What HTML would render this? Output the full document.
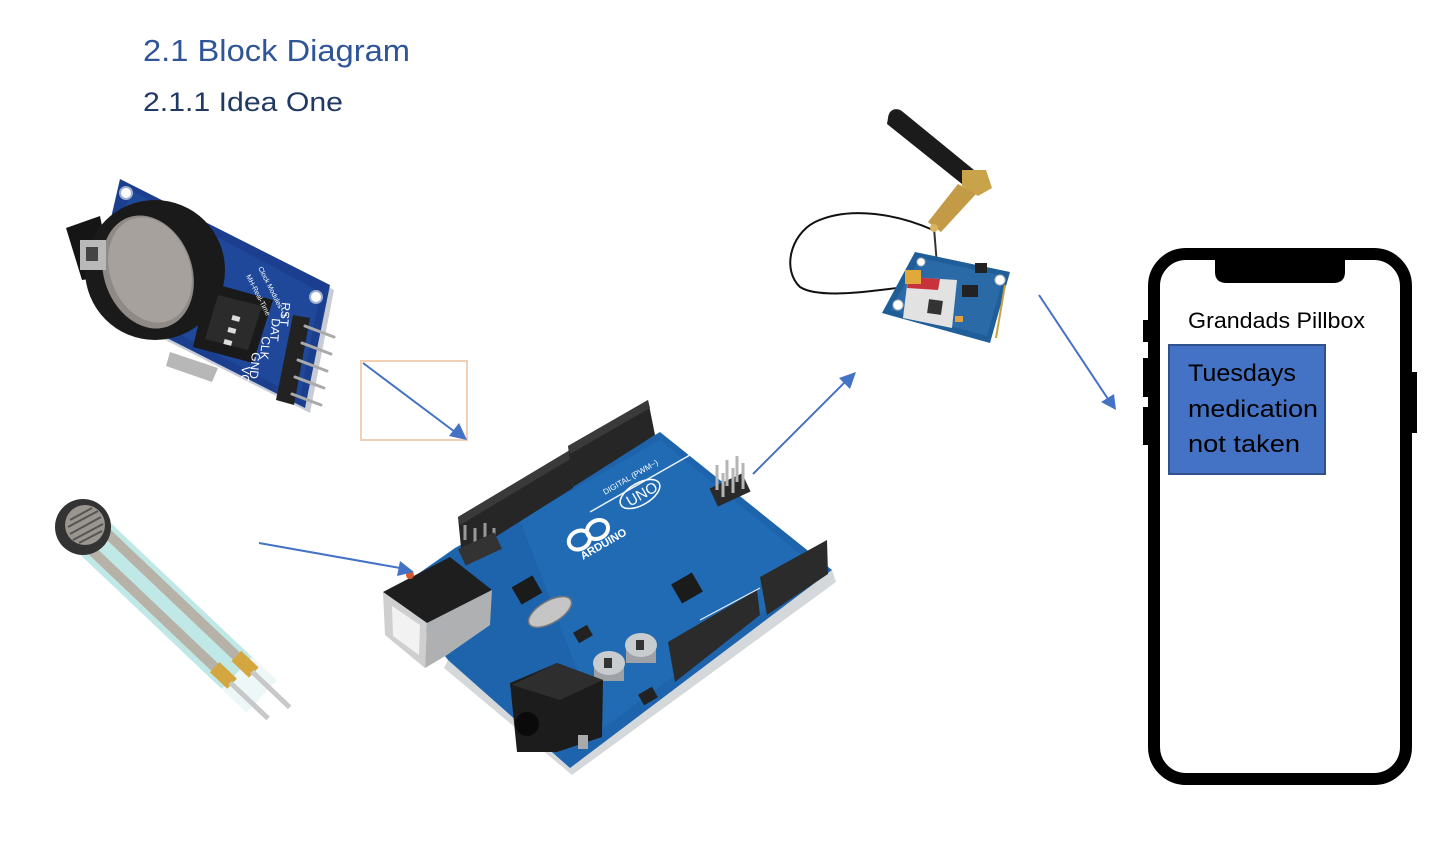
<!DOCTYPE html>
<html>
<head>
<meta charset="utf-8">
<style>
html,body{margin:0;padding:0;background:#fff;}
svg{display:block;}
</style>
</head>
<body>
<svg width="1442" height="842" viewBox="0 0 1442 842" xmlns="http://www.w3.org/2000/svg">
<rect width="1442" height="842" fill="#fff"/>

<!-- Headings -->
<text x="143" y="61" font-family="Liberation Sans, sans-serif" font-size="31" fill="#2F5597" textLength="267" lengthAdjust="spacingAndGlyphs">2.1 Block Diagram</text>
<text x="143" y="111" font-family="Liberation Sans, sans-serif" font-size="27" fill="#1F3864" textLength="200" lengthAdjust="spacingAndGlyphs">2.1.1 Idea One</text>

<!-- ================= RTC MODULE ================= -->
<g>
  <polygon points="124,183 334,290 310,413 96,305" fill="#c8ccd4"/>
  <polygon points="120,179 330,285 305,408 92,300" fill="#1b3f8e"/>
  <polygon points="130,190 320,292 300,398 105,295" fill="#20489a"/>
  <circle cx="126" cy="193" r="6" fill="#fff" stroke="#9fb0cf" stroke-width="2"/>
  <circle cx="316" cy="297" r="6" fill="#fff" stroke="#9fb0cf" stroke-width="2"/>
  <circle cx="286" cy="394" r="6" fill="#fff" stroke="#9fb0cf" stroke-width="2"/>
  <!-- battery holder -->
  <polygon points="66,228 100,216 112,276 82,280" fill="#151515"/>
  <ellipse cx="155" cy="270" rx="70" ry="70" fill="#1a1a1a"/>
  <ellipse cx="148" cy="272" rx="44" ry="58" transform="rotate(-20 148 272)" fill="#8f8a86"/>
  <ellipse cx="150" cy="270" rx="40" ry="54" transform="rotate(-20 150 270)" fill="#a6a19c"/>
  <rect x="80" y="240" width="26" height="30" fill="#b9b9b9"/>
  <rect x="86" y="247" width="12" height="14" fill="#444"/>
  <!-- crystal -->
  <polygon points="170,352 218,368 212,382 166,366" fill="#b7b7b7"/>
  <!-- chip -->
  <polygon points="208,282 273,300 253,363 193,347" fill="#1a1a1a"/>
  <polygon points="218,295 262,306 248,350 205,339" fill="#2b2b2b"/>
  <g fill="#ddd">
    <rect x="232" y="316" width="8" height="5" transform="rotate(15 236 318)"/>
    <rect x="228" y="328" width="8" height="5" transform="rotate(15 232 330)"/>
    <rect x="224" y="340" width="8" height="5" transform="rotate(15 228 342)"/>
  </g>
  <!-- labels -->
  <text x="0" y="0" font-family="Liberation Sans, sans-serif" font-size="7" fill="#fff" transform="translate(258,268) rotate(63)">Clock Modules - 2</text>
  <text x="0" y="0" font-family="Liberation Sans, sans-serif" font-size="7" fill="#fff" transform="translate(246,276) rotate(63)">MH-Real-Time</text>
  <text x="0" y="0" font-family="Liberation Sans, sans-serif" font-size="12" fill="#fff" transform="translate(282,302) rotate(95)">RST</text>
  <text x="0" y="0" font-family="Liberation Sans, sans-serif" font-size="12" fill="#fff" transform="translate(272,318) rotate(95)">DAT</text>
  <text x="0" y="0" font-family="Liberation Sans, sans-serif" font-size="12" fill="#fff" transform="translate(262,336) rotate(95)">CLK</text>
  <text x="0" y="0" font-family="Liberation Sans, sans-serif" font-size="12" fill="#fff" transform="translate(252,352) rotate(95)">GND</text>
  <text x="0" y="0" font-family="Liberation Sans, sans-serif" font-size="12" fill="#fff" transform="translate(242,366) rotate(95)">VCC</text>
  <!-- header -->
  <polygon points="293,315 310,318 294,405 276,400" fill="#222"/>
  <g stroke="#aaa" stroke-width="3" stroke-linecap="round">
    <line x1="305" y1="326" x2="334" y2="337"/>
    <line x1="302" y1="343" x2="331" y2="354"/>
    <line x1="298" y1="360" x2="327" y2="371"/>
    <line x1="295" y1="377" x2="324" y2="388"/>
    <line x1="292" y1="394" x2="321" y2="405"/>
  </g>
</g>

<!-- ================= FSR SENSOR ================= -->
<g>
  <g transform="translate(83,527) rotate(43.5)">
    <rect x="10" y="-22" width="236" height="44" fill="#bfe8e6"/>
    <rect x="212" y="-22" width="34" height="44" fill="#eef7f7"/>
    <rect x="10" y="-17" width="214" height="10" fill="#b7b2a8"/>
    <rect x="10" y="6" width="204" height="10" fill="#b7b2a8"/>
    <rect x="200" y="-19" width="24" height="14" fill="#d4a640"/>
    <rect x="192" y="4" width="24" height="14" fill="#d4a640"/>
    <rect x="222" y="-14" width="52" height="5" fill="#c8c8c8"/>
    <rect x="214" y="9" width="52" height="5" fill="#c8c8c8"/>
  </g>
  <circle cx="83" cy="527" r="28" fill="#333"/>
  <circle cx="85" cy="525" r="20" fill="#9a958e"/>
  <g stroke="#555" stroke-width="2">
    <line x1="70" y1="520" x2="92" y2="508"/>
    <line x1="68" y1="527" x2="98" y2="511"/>
    <line x1="70" y1="534" x2="101" y2="517"/>
    <line x1="73" y1="540" x2="103" y2="524"/>
    <line x1="79" y1="543" x2="102" y2="531"/>
  </g>
</g>

<!-- ================= ARDUINO ================= -->
<g>
  <polygon points="832,570 836,582 572,775 444,668 448,660 570,766" fill="#d4d8da"/>
  <polygon points="455,548 575,483 660,432 832,570 570,768 448,660 395,590" fill="#1e64ad"/>
  <polygon points="520,520 660,440 820,570 600,730" fill="#2270b8" opacity="0.6"/>
  <!-- header top 1 -->
  <polygon points="458,517 570,450 573,488 462,558" fill="#262626"/>
  <polygon points="458,517 570,450 572,458 460,525" fill="#3a3a3a"/>
  <!-- header top 2 -->
  <polygon points="568,446 648,400 655,435 573,487" fill="#262626"/>
  <polygon points="568,446 648,400 650,408 570,454" fill="#3a3a3a"/>
  <!-- bottom right headers -->
  <polygon points="668,642 757,590 760,615 675,682" fill="#2b2b2b"/>
  <polygon points="760,577 827,540 828,574 767,615" fill="#2b2b2b"/>
  <line x1="700" y1="620" x2="760" y2="588" stroke="#e8f0f8" stroke-width="1"/>
  <line x1="590" y1="512" x2="690" y2="455" stroke="#e8f0f8" stroke-width="1.5"/>
  <!-- logo -->
  <g transform="translate(588,535) rotate(-30)" fill="none" stroke="#fff" stroke-width="4">
    <ellipse cx="-10" cy="0" rx="11" ry="9"/>
    <ellipse cx="11" cy="0" rx="11" ry="9"/>
  </g>
  <text x="0" y="0" font-family="Liberation Sans, sans-serif" font-weight="bold" font-size="11" fill="#fff" transform="translate(583,560) rotate(-30)">ARDUINO</text>
  <g transform="translate(640,494) rotate(-30)">
    <ellipse cx="0" cy="0" rx="22" ry="11" fill="none" stroke="#fff" stroke-width="1.5"/>
    <text x="-15" y="6" font-family="Liberation Sans, sans-serif" font-size="15" fill="#fff">UNO</text>
  </g>
  <text x="0" y="0" font-family="Liberation Sans, sans-serif" font-size="8" fill="#fff" transform="translate(605,495) rotate(-30)">DIGITAL (PWM~)</text>
  <!-- ICSP left -->
  <g stroke="#999" stroke-width="3">
    <line x1="465" y1="540" x2="465" y2="525"/>
    <line x1="475" y1="545" x2="475" y2="528"/>
    <line x1="485" y1="540" x2="485" y2="523"/>
    <line x1="494" y1="545" x2="494" y2="528"/>
  </g>
  <rect x="460" y="540" width="40" height="18" fill="#333" transform="rotate(-25 480 549)"/>
  <!-- ICSP right -->
  <rect x="712" y="480" width="36" height="20" fill="#2a2a2a" transform="rotate(-25 730 490)"/>
  <g stroke="#b5b5b5" stroke-width="3">
    <line x1="717" y1="490" x2="717" y2="465"/>
    <line x1="727" y1="486" x2="727" y2="460"/>
    <line x1="737" y1="482" x2="737" y2="456"/>
    <line x1="723" y1="497" x2="723" y2="473"/>
    <line x1="733" y1="493" x2="733" y2="468"/>
    <line x1="743" y1="489" x2="743" y2="463"/>
  </g>
  <!-- chips -->
  <rect x="515" y="580" width="24" height="20" fill="#1b1b1b" transform="rotate(-30 527 590)"/>
  <rect x="675" y="577" width="24" height="22" fill="#1b1b1b" transform="rotate(-30 687 588)"/>
  <rect x="575" y="628" width="16" height="12" fill="#222" transform="rotate(-30 583 634)"/>
  <rect x="640" y="690" width="16" height="12" fill="#222" transform="rotate(-30 648 696)"/>
  <!-- crystal -->
  <ellipse cx="550" cy="612" rx="24" ry="11" transform="rotate(-30 550 612)" fill="#c5c5c5" stroke="#777" stroke-width="1.5"/>
  <!-- USB -->
  <polygon points="383,592 450,557 492,590 427,623" fill="#1e1e1e"/>
  <polygon points="383,592 427,623 425,668 385,635" fill="#cfcfcf"/>
  <polygon points="392,606 420,625 419,655 393,636" fill="#f2f2f2"/>
  <polygon points="427,623 492,590 490,625 447,655 425,668" fill="#aeb0b2"/>
  <circle cx="410" cy="575" r="4" fill="#d9582e"/>
  <!-- capacitors -->
  <rect x="594" y="663" width="30" height="18" fill="#9ea2a6"/>
  <ellipse cx="609" cy="663" rx="16" ry="12" fill="#c9cccf"/>
  <rect x="626" y="645" width="30" height="18" fill="#9ea2a6"/>
  <ellipse cx="641" cy="645" rx="16" ry="12" fill="#c9cccf"/>
  <rect x="604" y="658" width="8" height="10" fill="#333"/>
  <rect x="636" y="640" width="8" height="10" fill="#333"/>
  <!-- DC jack -->
  <polygon points="510,683 557,663 603,680 602,737 557,752 517,752" fill="#1c1c1c"/>
  <polygon points="557,663 603,680 560,700 512,685" fill="#2e2e2e"/>
  <circle cx="527" cy="724" r="12" fill="#0a0a0a"/>
  <rect x="578" y="735" width="10" height="14" fill="#aaa"/>
</g>

<!-- ================= GSM MODULE ================= -->
<g>
  <path d="M933,230 C900,215 850,205 815,222 C790,235 782,270 800,287 C820,300 880,290 912,286" fill="none" stroke="#111" stroke-width="2"/>
  <line x1="934" y1="228" x2="937" y2="265" stroke="#333" stroke-width="2"/>
  <polygon points="915,252 1010,272 990,343 882,313" fill="#1f5e98"/>
  <polygon points="920,258 1004,276 987,336 890,310" fill="#2a6aa6"/>
  <circle cx="898" cy="305" r="5" fill="#fff" stroke="#bbb"/>
  <circle cx="1000" cy="280" r="5" fill="#fff" stroke="#bbb"/>
  <circle cx="921" cy="262" r="4" fill="#fff" stroke="#bbb"/>
  <polygon points="908,277 957,280 952,328 903,318" fill="#e2e2e2"/>
  <polygon points="908,277 940,279 938,290 907,288" fill="#c8323c"/>
  <rect x="928" y="300" width="14" height="14" fill="#333" transform="rotate(8 935 307)"/>
  <rect x="905" y="270" width="16" height="14" fill="#e0a93a"/>
  <rect x="955" y="316" width="8" height="6" fill="#e0a040"/>
  <rect x="962" y="285" width="16" height="12" fill="#222"/>
  <rect x="975" y="263" width="12" height="10" fill="#222"/>
  <line x1="1005" y1="285" x2="996" y2="338" stroke="#c9a040" stroke-width="2"/>
  <!-- antenna -->
  <path d="M888,118 C889,108 898,107 903,112 L974,170 L962,184 L887,124 Z" fill="#1b1b1b"/>
  <polygon points="962,170 986,170 992,188 978,196 962,186" fill="#c9a34a"/>
  <polygon points="958,184 976,194 941,232 928,222" fill="#c39a45"/>
  <circle cx="934" cy="228" r="4" fill="#d9b560"/>
</g>

<!-- ================= ARROWS ================= -->
<rect x="361" y="361" width="106" height="79" fill="none" stroke="#F1CFB4" stroke-width="2"/>
<g stroke="#4472C4" stroke-width="2" fill="#4472C4">
  <line x1="363" y1="363" x2="455" y2="432"/>
  <polygon points="467,440 449,436 459,423" stroke="none"/>
  <line x1="259" y1="543" x2="400" y2="568"/>
  <polygon points="414,572 397,576 400,561" stroke="none"/>
  <line x1="753" y1="474" x2="846" y2="381"/>
  <polygon points="856,372 850,389 839,378" stroke="none"/>
  <line x1="1039" y1="295" x2="1108" y2="399"/>
  <polygon points="1116,410 1101,402 1114,394" stroke="none"/>
</g>

<!-- ================= PHONE ================= -->
<g>
  <rect x="1143" y="320" width="7" height="22" fill="#000"/>
  <rect x="1143" y="358" width="7" height="39" fill="#000"/>
  <rect x="1143" y="407" width="7" height="38" fill="#000"/>
  <rect x="1410" y="372" width="7" height="61" fill="#000"/>
  <rect x="1154" y="254" width="252" height="525" rx="32" ry="32" fill="#fff" stroke="#000" stroke-width="12"/>
  <path d="M1215,252 L1345,252 L1345,272 Q1345,283 1333,283 L1227,283 Q1215,283 1215,272 Z" fill="#000"/>
  <text x="1188" y="328" font-family="Liberation Sans, sans-serif" font-size="22" fill="#000" textLength="177" lengthAdjust="spacingAndGlyphs">Grandads Pillbox</text>
  <rect x="1169" y="345" width="156" height="129" fill="#4472C4" stroke="#2F528F" stroke-width="2"/>
  <text x="1188" y="381" font-family="Liberation Sans, sans-serif" font-size="24" fill="#000" textLength="108" lengthAdjust="spacingAndGlyphs">Tuesdays</text>
  <text x="1188" y="417" font-family="Liberation Sans, sans-serif" font-size="24" fill="#000" textLength="130" lengthAdjust="spacingAndGlyphs">medication</text>
  <text x="1188" y="452" font-family="Liberation Sans, sans-serif" font-size="24" fill="#000" textLength="112" lengthAdjust="spacingAndGlyphs">not taken</text>
</g>
</svg>
</body>
</html>
